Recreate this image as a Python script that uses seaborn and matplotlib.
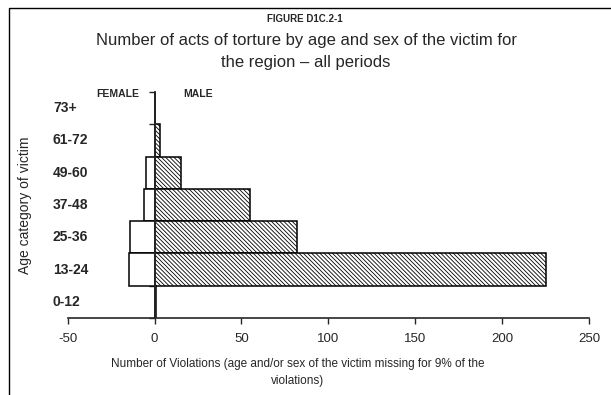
import matplotlib
matplotlib.use("Agg")
import matplotlib.pyplot as plt
import matplotlib.transforms as mtransforms
from matplotlib.patches import Rectangle
import seaborn as sns
import pandas as pd

# Age groups, top to bottom
age_groups = ["73+", "61-72", "49-60", "37-48", "25-36", "13-24", "0-12"]
# Acts of torture per age group
male_counts = [0, 3, 15, 55, 82, 225, 1]
female_counts = [0, 0, 5, 6, 14, 15, 0]
x_ticks = [-50, 0, 50, 100, 150, 200, 250]

sns.set_style("ticks")
plt.rcParams["font.family"] = ["Liberation Sans", "DejaVu Sans"]
plt.rcParams["hatch.linewidth"] = 0.6

df = pd.DataFrame({
    "age": age_groups,
    "male": male_counts,
    "female": [-v for v in female_counts],
})

W, H = 611, 395
fig = plt.figure(figsize=(W / 100, H / 100), dpi=100)
ax = fig.add_axes([67.7 / W, 1 - 318 / H, (589 - 67.7) / W, (318 - 92) / H])

# Female bars to the left of zero (plain), male bars to the right (hatched)
sns.barplot(data=df, x="female", y="age", order=age_groups, orient="h",
            color="white", saturation=1, edgecolor="black", linewidth=1.1,
            width=1.0, ax=ax)
sns.barplot(data=df, x="male", y="age", order=age_groups, orient="h",
            color="white", saturation=1, edgecolor="black", linewidth=1.1,
            width=1.0, hatch="\\\\\\\\\\\\\\\\", ax=ax)

ax.set_xlim(-50, 250)
ax.set_ylim(len(age_groups) - 0.5, -0.5)
ax.set_xticks(x_ticks)
ax.set_xticklabels([str(t) for t in x_ticks], fontsize=9.5)
ax.tick_params(axis="x", direction="out", length=4, width=1, pad=7)

for side in ("top", "right"):
    ax.spines[side].set_visible(False)
ax.spines["left"].set_position(("data", 0))
ax.spines["left"].set_linewidth(1.3)
ax.spines["bottom"].set_linewidth(1.2)

# Boundary ticks between age groups on the zero axis
ax.set_yticks([])
ax.set_yticks([i - 0.5 for i in range(len(age_groups) + 1)], minor=True)
ax.tick_params(axis="y", which="minor", direction="out", length=4, width=1)
ax.set_xlabel("")
ax.set_ylabel("")

# Age group labels, left aligned beside the plot
trans = mtransforms.blended_transform_factory(fig.transFigure, ax.transData)
for i, lab in enumerate(age_groups):
    ax.text(53 / W, i, lab, transform=trans, ha="left", va="center",
            fontsize=10, fontweight="bold", clip_on=False)

fig.text(25 / W, 1 - 205 / H, "Age category of victim", rotation=90,
         ha="center", va="center", fontsize=10)

fig.text(118 / W, 1 - 94 / H, "FEMALE", ha="center", va="center",
         fontsize=7.5, fontweight="bold")
fig.text(198 / W, 1 - 94 / H, "MALE", ha="center", va="center",
         fontsize=7.5, fontweight="bold")

fig.text(305 / W, 1 - 19 / H, "FIGURE D1C.2-1", ha="center", va="center",
         fontsize=7, fontweight="bold")
fig.text(306 / W, 1 - 40 / H,
         "Number of acts of torture by age and sex of the victim for",
         ha="center", va="center", fontsize=12)
fig.text(306 / W, 1 - 63 / H, "the region \u2013 all periods",
         ha="center", va="center", fontsize=12)

fig.text(298 / W, 1 - 364 / H,
         "Number of Violations (age and/or sex of the victim missing for 9% of the",
         ha="center", va="center", fontsize=8.5)
fig.text(298 / W, 1 - 381 / H, "violations)", ha="center", va="center",
         fontsize=8.5)

# Outer frame running off the right and bottom edges
fig.patches.append(Rectangle((9 / W, -0.1), 1.2, 1.1 - 8 / H,
                             transform=fig.transFigure, fill=False,
                             edgecolor="black", linewidth=1.0))

fig.savefig("out.png", dpi=100, facecolor="white")
